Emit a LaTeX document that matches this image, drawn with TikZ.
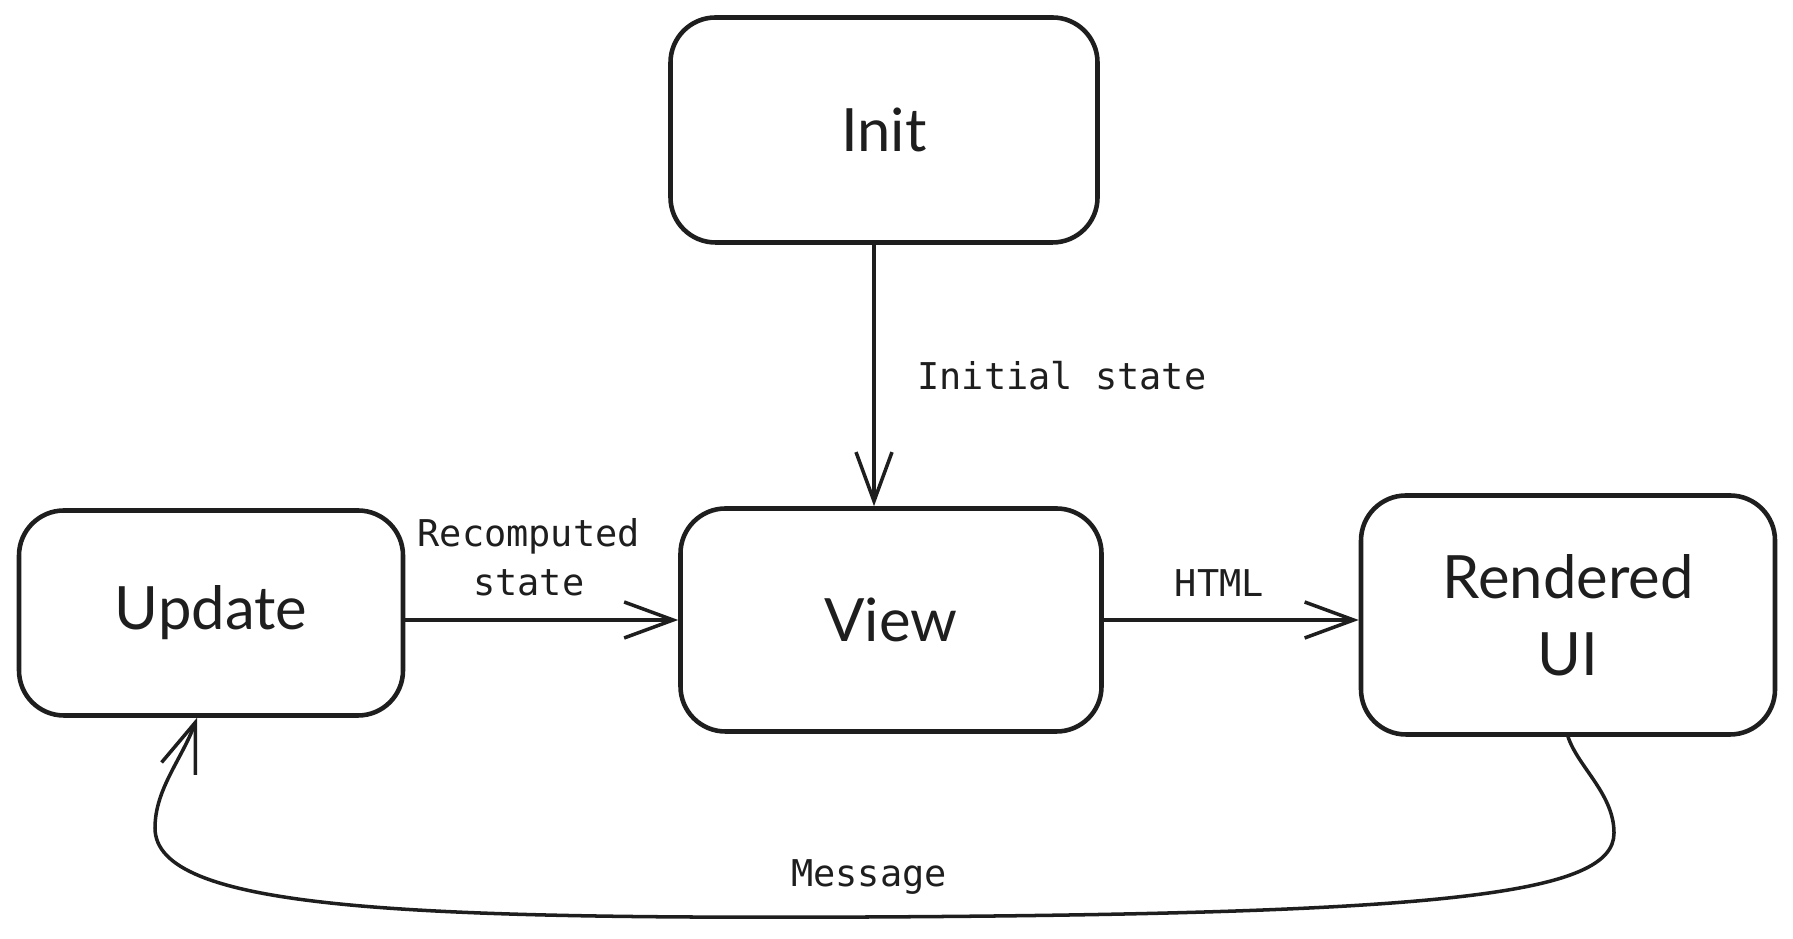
\documentclass[tikz,border=0pt]{standalone}
\usepackage{fontspec}
\setmainfont{Lato}
\newfontfamily\handfont{DejaVu Sans Mono}
\usetikzlibrary{arrows.meta}
\definecolor{ink}{HTML}{1E1E1E}
\begin{document}
\begin{tikzpicture}[
		box/.style={draw=ink, line width=1.3pt, rounded corners=4.5mm, align=center, font=\fontsize{17}{22}\selectfont, text=ink},
		arr/.style={draw=ink, line width=1pt, line cap=round, -{Straight Barb[length=4.9mm, width=3.6mm, line width=1pt]}},
		lbl/.style={font=\handfont\fontsize{10.5}{14}\selectfont, text=ink, align=center}]
		\useasboundingbox (0,0) rectangle (17.93,9.39);

		\node[box, minimum width=4.27cm, minimum height=2.25cm] (init) at (8.84,8.09) {Init};
		\node[box, minimum width=4.21cm, minimum height=2.23cm] (view) at (8.91,3.19) {View};
		\node[box, minimum width=3.84cm, minimum height=2.05cm] (update) at (2.11,3.26) {Update};
		\node[box, minimum width=4.14cm, minimum height=2.39cm] (rendered) at (15.68,3.24) {Rendered\\UI};

		\draw[arr] ([xshift=-1mm]init.south) -- ([xshift=-1mm]init.south |- view.north) node[lbl, midway, right=3mm] {Initial state};
		\draw[arr] (view.west -| update.east) -- (view.west) node[lbl, midway, above=1mm, xshift=-1.3mm] {Recomputed\\state};
		\draw[arr] (view.east) -- (view.east -| rendered.west) node[lbl, midway, above=1mm, xshift=-1.2mm] {HTML};

		\draw[arr] (rendered.south) .. controls (15.78,1.72) and (16.14,1.45) .. (16.14,1.06)
			.. controls (16.14,0.45) and (14.5,0.25) .. (8.69,0.22)
			.. controls (4,0.2) and (1.55,0.3) .. (1.55,1.11)
			.. controls (1.55,1.5) and (1.82,1.8) .. ([xshift=-1.4mm]update.south);
		\node[lbl] (msg) at (8.69,0.62) {Message};
\end{tikzpicture}
\end{document}
